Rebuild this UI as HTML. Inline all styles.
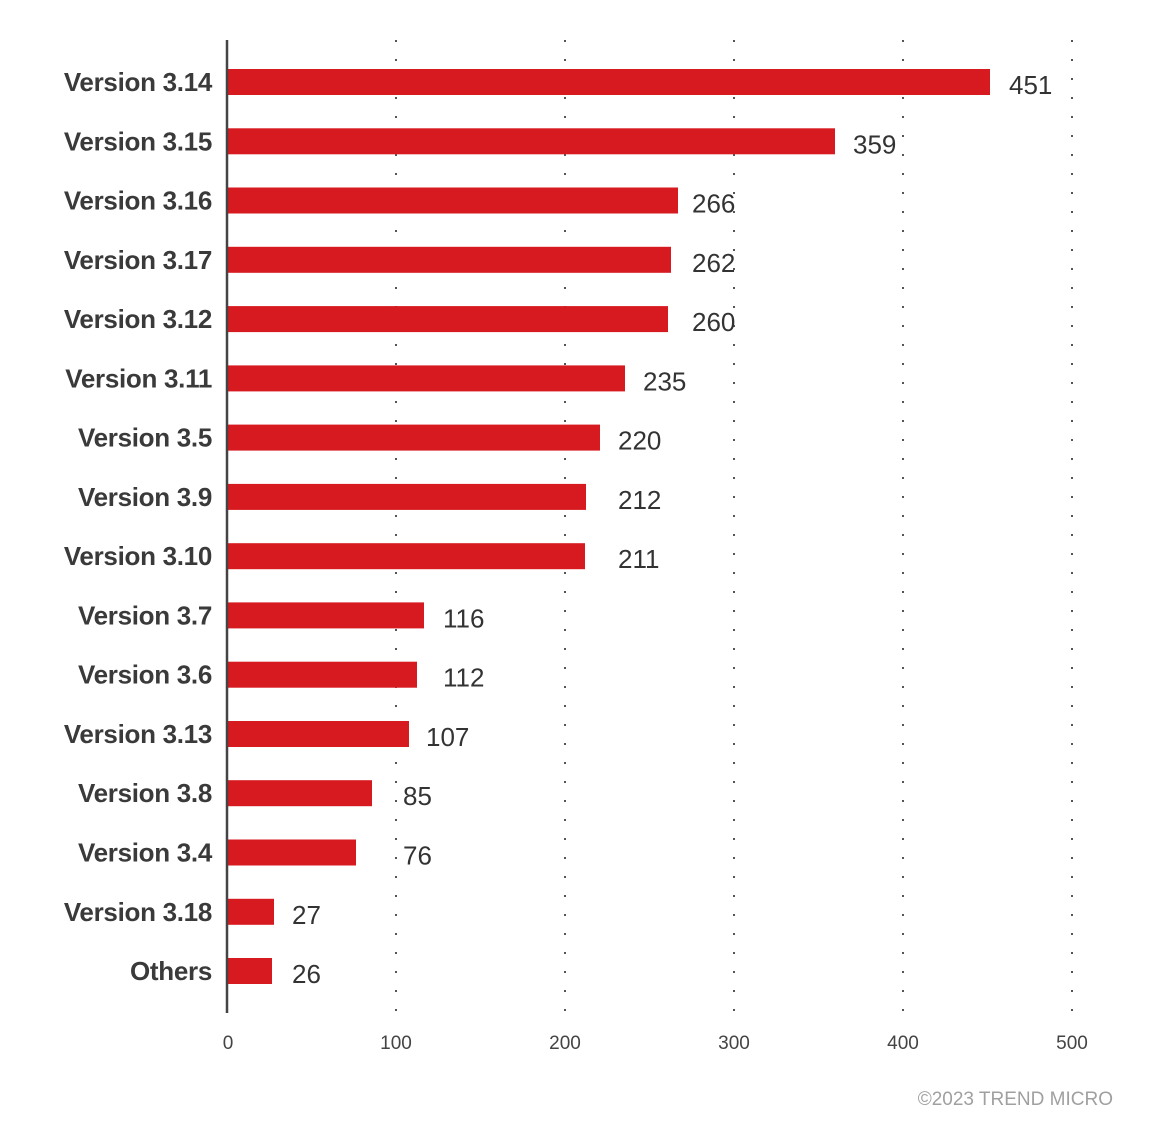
<!DOCTYPE html>
<html><head><meta charset="utf-8"><style>
html,body{margin:0;padding:0;background:#fff;}
svg{display:block;}
.l{font-family:"Liberation Sans",sans-serif;font-weight:bold;font-size:26px;fill:#3a3a3a;letter-spacing:-0.3px;}
.v{font-family:"Liberation Sans",sans-serif;font-size:26px;fill:#333;}
.t{font-family:"Liberation Sans",sans-serif;font-size:19px;fill:#444;}
</style></head><body>
<svg width="1164" height="1131" viewBox="0 0 1164 1131">
<g stroke="#555" stroke-width="2" stroke-dasharray="2 17" stroke-linecap="butt">
<line x1="396" y1="40" x2="396" y2="1012"/>
<line x1="565" y1="40" x2="565" y2="1012"/>
<line x1="734" y1="40" x2="734" y2="1012"/>
<line x1="903" y1="40" x2="903" y2="1012"/>
<line x1="1072" y1="40" x2="1072" y2="1012"/>
</g>
<g fill="#d71920">
<rect x="228" y="69" width="762" height="26"/>
<rect x="228" y="128.3" width="607" height="26"/>
<rect x="228" y="187.5" width="450" height="26"/>
<rect x="228" y="246.8" width="443" height="26"/>
<rect x="228" y="306.1" width="440" height="26"/>
<rect x="228" y="365.4" width="397" height="26"/>
<rect x="228" y="424.6" width="372" height="26"/>
<rect x="228" y="483.9" width="358" height="26"/>
<rect x="228" y="543.2" width="357" height="26"/>
<rect x="228" y="602.4" width="196" height="26"/>
<rect x="228" y="661.7" width="189" height="26"/>
<rect x="228" y="721" width="181" height="26"/>
<rect x="228" y="780.2" width="144" height="26"/>
<rect x="228" y="839.5" width="128" height="26"/>
<rect x="228" y="898.8" width="46" height="26"/>
<rect x="228" y="958" width="44" height="26"/>
</g>
<line x1="227" y1="40" x2="227" y2="1013" stroke="#444" stroke-width="2.5"/>
<g class="l" text-anchor="end">
<text x="212" y="91">Version 3.14</text>
<text x="212" y="150.3">Version 3.15</text>
<text x="212" y="209.5">Version 3.16</text>
<text x="212" y="268.8">Version 3.17</text>
<text x="212" y="328.1">Version 3.12</text>
<text x="212" y="387.4">Version 3.11</text>
<text x="212" y="446.6">Version 3.5</text>
<text x="212" y="505.9">Version 3.9</text>
<text x="212" y="565.2">Version 3.10</text>
<text x="212" y="624.4">Version 3.7</text>
<text x="212" y="683.7">Version 3.6</text>
<text x="212" y="743">Version 3.13</text>
<text x="212" y="802.2">Version 3.8</text>
<text x="212" y="861.5">Version 3.4</text>
<text x="212" y="920.8">Version 3.18</text>
<text x="212" y="980">Others</text>
</g>
<g class="v">
<text x="1009" y="94">451</text>
<text x="853" y="153.3">359</text>
<text x="692" y="212.5">266</text>
<text x="692" y="271.8">262</text>
<text x="692" y="331.1">260</text>
<text x="643" y="390.4">235</text>
<text x="618" y="449.6">220</text>
<text x="618" y="508.9">212</text>
<text x="618" y="568.2">211</text>
<text x="443" y="627.4">116</text>
<text x="443" y="686.7">112</text>
<text x="426" y="746">107</text>
<text x="403" y="805.2">85</text>
<text x="403" y="864.5">76</text>
<text x="292" y="923.8">27</text>
<text x="292" y="983">26</text>
</g>
<g class="t" text-anchor="middle">
<text x="228" y="1049">0</text>
<text x="396" y="1049">100</text>
<text x="565" y="1049">200</text>
<text x="734" y="1049">300</text>
<text x="903" y="1049">400</text>
<text x="1072" y="1049">500</text>
</g>
<text x="1113" y="1105" text-anchor="end" style="font-family:'Liberation Sans',sans-serif;font-size:19px;fill:#a0a0a0;">©2023 TREND MICRO</text>
</svg>
</body></html>
